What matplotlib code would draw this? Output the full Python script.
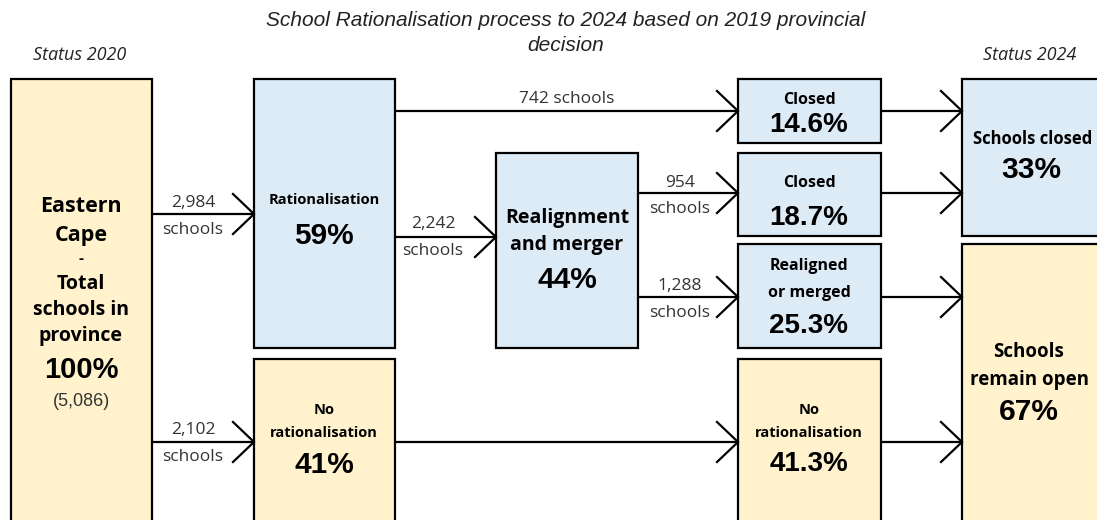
import matplotlib
matplotlib.use("Agg")
import matplotlib.pyplot as plt
from matplotlib.patches import Rectangle

# School counts and shares
total_schools = 5086
to_rationalisation = 2984
to_no_rationalisation = 2102
closed_direct = 742
to_realignment = 2242
closed_after_merge = 954
realigned_merged = 1288

pct_rationalisation = 59
pct_no_rationalisation = 41
pct_realignment = 44
pct_closed_direct = 14.6
pct_closed_merge = 18.7
pct_realigned = 25.3
pct_no_rat_2024 = 41.3
pct_closed_2024 = 33
pct_open_2024 = 67

CREAM = "#FFF2CC"
BLUE = "#DDEBF7"
LBL = "Open Sans"
NUM = "Liberation Sans"

fig = plt.figure(figsize=(10.97, 5.20), dpi=100)
ax = fig.add_axes([0, 0, 1, 1])
ax.set_xlim(0, 1097)
ax.set_ylim(520, 0)
ax.axis("off")


def box(x0, y0, x1, y1, color):
    ax.add_patch(Rectangle((x0, y0), x1 - x0, y1 - y0, facecolor=color,
                           edgecolor="black", linewidth=1.6, zorder=1))


def arrow(x0, x1, y):
    ax.plot([x0, x1], [y, y], color="black", lw=1.6, zorder=2,
            solid_capstyle="butt")
    ax.plot([x1 - 21, x1, x1 - 21], [y - 20, y, y + 20], color="black",
            lw=1.6, zorder=2, solid_joinstyle="miter")


def txt(x, y, s, size, bold=True, family=LBL, color="black", **kw):
    ax.text(x, y, s, ha="center", va="center", fontsize=size,
            fontweight="bold" if bold else "normal", family=family,
            color=color, zorder=3, **kw)


# title and column headers
txt(566, 33, "School Rationalisation process to 2024 based on 2019 provincial\ndecision",
    15, bold=False, family=NUM, style="italic", linespacing=1.45, color="#222222")
txt(80, 55, "Status 2020", 13, bold=False, style="italic", color="#222222")
txt(1030, 55, "Status 2024", 13, bold=False, style="italic", color="#222222")

# boxes
box(11, 79, 152, 540, CREAM)
box(254, 79, 395, 348, BLUE)
box(254, 359, 395, 540, CREAM)
box(496, 153, 638, 348, BLUE)
box(738, 79, 881, 143, BLUE)
box(738, 153, 881, 236, BLUE)
box(738, 244, 881, 348, BLUE)
box(738, 359, 881, 540, CREAM)
box(962, 79, 1120, 236, BLUE)
box(962, 244, 1120, 540, CREAM)

# arrows
arrow(152, 254, 214)
arrow(152, 254, 442)
arrow(395, 738, 111)
arrow(395, 496, 237)
arrow(638, 738, 193)
arrow(638, 738, 297)
arrow(395, 738, 442)
arrow(881, 962, 111)
arrow(881, 962, 193)
arrow(881, 962, 297)
arrow(881, 962, 442)

# flow labels
fc = "#333333"
fs = 12.5
txt(193, 203, f"{to_rationalisation:,}", fs, bold=False, color=fc)
txt(193, 230, "schools", fs, bold=False, color=fc)
txt(193, 430, f"{to_no_rationalisation:,}", fs, bold=False, color=fc)
txt(193, 457, "schools", fs, bold=False, color=fc)
txt(567, 99, f"{closed_direct:,} schools", fs, bold=False, color=fc)
txt(433, 224, f"{to_realignment:,}", fs, bold=False, color=fc)
txt(433, 251, "schools", fs, bold=False, color=fc)
txt(680, 183, f"{closed_after_merge:,}", fs, bold=False, color=fc)
txt(680, 209, "schools", fs, bold=False, color=fc)
txt(680, 286, f"{realigned_merged:,}", fs, bold=False, color=fc)
txt(680, 313, "schools", fs, bold=False, color=fc)

# Eastern Cape column
txt(81, 206, "Eastern", 15.5)
txt(81, 236, "Cape", 15.5)
txt(81, 259, "-", 11)
txt(81, 284, "Total", 14)
txt(81, 310, "schools in", 14)
txt(81, 336, "province", 14)
txt(81, 370, "100%", 21, family=NUM)
txt(81, 401, f"({total_schools:,})", 13, bold=False, family=NUM, color="#333333")

# second column
txt(324, 200, "Rationalisation", 10.5)
txt(324, 236, f"{pct_rationalisation}%", 21.5, family=NUM)
txt(324, 410, "No", 10.5)
txt(324, 433, "rationalisation", 10.5)
txt(324, 465, f"{pct_no_rationalisation}%", 21.5, family=NUM)

# realignment
txt(567, 218, "Realignment", 14)
txt(567, 245, "and merger", 14)
txt(567, 280, f"{pct_realignment}%", 21.5, family=NUM)

# outcomes
txt(809, 100, "Closed", 11.5)
txt(809, 125, f"{pct_closed_direct}%", 20, family=NUM)
txt(809, 183, "Closed", 11.5)
txt(809, 218, f"{pct_closed_merge}%", 20, family=NUM)
txt(809, 266, "Realigned", 11.5)
txt(809, 293, "or merged", 11.5)
txt(809, 326, f"{pct_realigned}%", 20, family=NUM)
txt(809, 410, "No", 10.5)
txt(809, 433, "rationalisation", 10.5)
txt(809, 464, f"{pct_no_rat_2024}%", 20, family=NUM)

# status 2024
txt(1033, 139, "Schools closed", 12)
txt(1031, 170, f"{pct_closed_2024}%", 21.5, family=NUM)
txt(1029, 352, "Schools", 13.5)
txt(1029, 380, "remain open", 13.5)
txt(1029, 412, f"{pct_open_2024}%", 21.5, family=NUM)

fig.savefig("out.png", dpi=100)
